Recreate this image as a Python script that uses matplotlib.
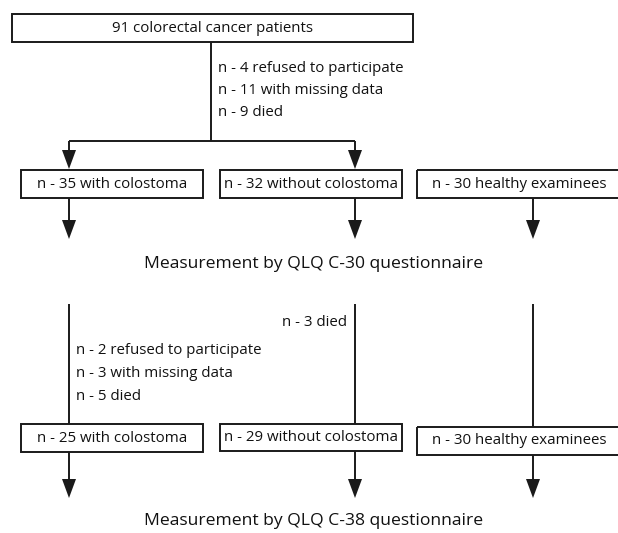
import matplotlib
matplotlib.use("Agg")
import matplotlib.pyplot as plt
from matplotlib.patches import Rectangle, Polygon

# data
total_patients = 91
groups = ["with colostoma", "without colostoma", "healthy examinees"]
stage1_n = [35, 32, 30]
stage2_n = [25, 29, 30]
excluded_first = [(4, "refused to participate"), (11, "with missing data"), (9, "died")]
excluded_colostoma = [(2, "refused to participate"), (3, "with missing data"), (5, "died")]
excluded_no_colostoma = [(3, "died")]
questionnaires = ["QLQ C-30", "QLQ C-38"]

# layout (pixels)
W, H = 618, 533
col_x = [69, 355, 533]
box_left = [21, 220, 417]
box_right = [203, 402, 622]
row1_box = [(170, 198), (170, 198), (170, 198)]
row2_box = [(424, 452), (424, 451), (427, 455)]
LC = "#1a1a1a"
LW = 1.4
FONT = "Open Sans"
FS = 10.8
FS_BIG = 12.6

plt.rcParams['font.family'] = [FONT, 'DejaVu Sans']

fig = plt.figure(figsize=(W / 100, H / 100), dpi=100)
ax = fig.add_axes([0, 0, 1, 1])
ax.set_xlim(0, W)
ax.set_ylim(H, 0)
ax.axis('off')


def line(x0, y0, x1, y1):
    ax.plot([x0, x1], [y0, y1], color=LC, lw=LW, solid_capstyle='butt')


def arrow(x, y0, tip):
    line(x, y0, x, tip - 10)
    ax.add_patch(Polygon([[x - 7, tip - 19], [x + 7, tip - 19], [x, tip]],
                         closed=True, color=LC, lw=0))


def box(x0, x1, y0, y1, text):
    ax.add_patch(Rectangle((x0, y0), x1 - x0, y1 - y0, fill=False,
                           edgecolor=LC, lw=LW))
    ax.text((x0 + x1) / 2, (y0 + y1) / 2, text, ha='center', va='center',
            fontsize=FS, color='#111111')


def lines_of(items, x, y0, dy=22.5, ha='left'):
    for k, (n, what) in enumerate(items):
        ax.text(x, y0 + k * dy, "n - %d %s" % (n, what), ha=ha, va='center',
                fontsize=FS, color='#111111')


# top box
box(12, 413, 14, 42, "%d colorectal cancer patients" % total_patients)
line(211, 42, 211, 141)
lines_of(excluded_first, 218, 68)
line(col_x[0], 141, col_x[1], 141)
arrow(col_x[0], 141, 169)
arrow(col_x[1], 141, 169)

# first group row
for i, g in enumerate(groups):
    y0, y1 = row1_box[i]
    box(box_left[i], box_right[i], y0, y1, "n - %d %s" % (stage1_n[i], g))
    arrow(col_x[i], y1, 239)

ax.text(314, 264, "Measurement by %s questionnaire" % questionnaires[0],
        ha='center', va='center', fontsize=FS_BIG, color='#111111')

# second stage
for i in range(3):
    line(col_x[i], 304, col_x[i], row2_box[i][0])
lines_of(excluded_colostoma, 76, 351)
lines_of(excluded_no_colostoma, 347, 322, ha='right')

for i, g in enumerate(groups):
    y0, y1 = row2_box[i]
    box(box_left[i], box_right[i], y0, y1, "n - %d %s" % (stage2_n[i], g))
    arrow(col_x[i], y1, 498)

ax.text(314, 521, "Measurement by %s questionnaire" % questionnaires[1],
        ha='center', va='center', fontsize=FS_BIG, color='#111111')

fig.savefig("out.png", dpi=100, facecolor='white')
